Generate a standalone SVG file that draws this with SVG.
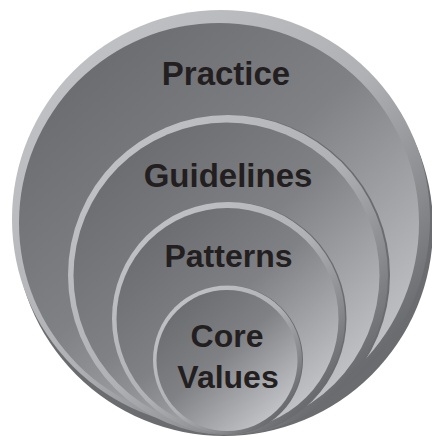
<svg xmlns="http://www.w3.org/2000/svg" width="432" height="436" viewBox="0 0 432 436">
<defs>
<linearGradient id="fillG" x1="0.15" y1="0.1" x2="0.85" y2="0.9">
<stop offset="0" stop-color="#6b6c70"/>
<stop offset="0.45" stop-color="#808185"/>
<stop offset="1" stop-color="#c4c5c8"/>
</linearGradient>
<linearGradient id="rimG" x1="0.2" y1="0.1" x2="0.9" y2="0.8">
<stop offset="0" stop-color="#bfc0c3"/>
<stop offset="0.5" stop-color="#b0b1b4"/>
<stop offset="0.8" stop-color="#8a8b8e"/>
<stop offset="1" stop-color="#6a6b6e"/>
</linearGradient>
<style>
.shadow{fill:#6b6c6f}
.rim{fill:url(#rimG)}
.fill{fill:url(#fillG)}
.lbl{font-family:"Liberation Sans",Arial,sans-serif;font-weight:bold;font-size:33px;fill:#231f20;text-anchor:middle}
</style>
</defs>
<g id="practice">
<circle class="shadow" cx="224" cy="227" r="209"/>
<circle class="rim" cx="221" cy="219" r="209"/>
<circle class="fill" cx="219" cy="223" r="200"/>
<text class="lbl" x="226" y="85">Practice</text>
</g>
<g id="guidelines">
<circle class="shadow" cx="230" cy="275" r="160"/>
<circle class="rim" cx="228" cy="275" r="160"/>
<circle class="fill" cx="226.5" cy="275.5" r="153"/>
<text class="lbl" x="228" y="187">Guidelines</text>
</g>
<g id="patterns">
<circle class="shadow" cx="230" cy="318.5" r="116.5"/>
<circle class="rim" cx="228.5" cy="318.5" r="116.5"/>
<circle class="fill" cx="227.5" cy="319" r="111"/>
<text class="lbl" x="228.5" y="267" style="font-size:32px">Patterns</text>
</g>
<g id="core-values">
<circle class="shadow" cx="228.5" cy="360" r="74.5"/>
<circle class="rim" cx="227.5" cy="360" r="74.5"/>
<circle class="fill" cx="227" cy="360.5" r="70.5"/>
<text class="lbl" x="227" y="347" style="font-size:32px">Core</text>
<text class="lbl" x="228" y="388" style="font-size:32px">Values</text>
</g>
<g id="connectors"/>
</svg>
